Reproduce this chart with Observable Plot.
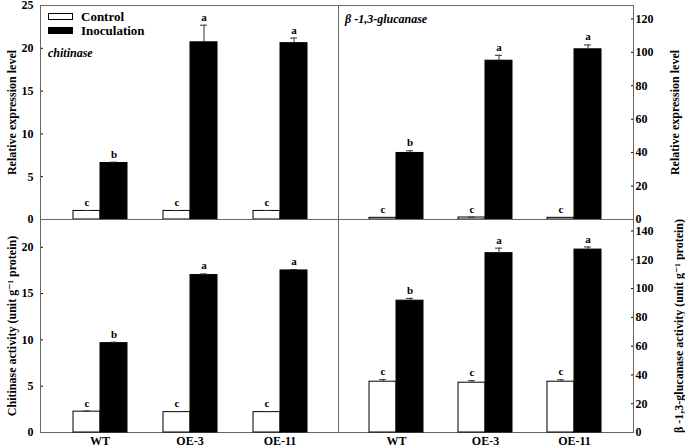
<!DOCTYPE html>
<html><head><meta charset="utf-8">
<script src="https://cdn.jsdelivr.net/npm/d3@7"></script>
<script src="https://cdn.jsdelivr.net/npm/@observablehq/plot@0.6"></script>
<style>
body{margin:0;background:#fff}
#chart{position:relative;width:685px;height:447px;font-family:"Liberation Serif","Times New Roman",Times,"DejaVu Serif",serif;font-weight:bold;color:#000}
#chart svg{position:absolute;left:0;top:0}
#chart svg text{font-weight:bold;font-family:"Liberation Serif","Times New Roman",Times,"DejaVu Serif",serif}
.ann{position:absolute;white-space:nowrap;line-height:1;font-size:12px}
.sw{position:absolute;box-sizing:border-box;border:1px solid #000;width:25px;height:7px}
</style></head>
<body><div id="chart"></div>
<script>
const groups = ["WT", "OE-3", "OE-11"];
const series = ["Control", "Inoculation"];
const ctrlLetters = ["c", "c", "c"];
const inocLetters = ["b", "a", "a"];

// chitinase relative expression
const chiExpCtrl = [1.0, 1.0, 1.0];
const chiExpCtrlErr = [0.05, 0.04, 0.05];
const chiExpInoc = [6.6, 20.7, 20.6];
const chiExpInocErr = [0.1, 2.0, 0.6];
// beta-1,3-glucanase relative expression
const gluExpCtrl = [1.0, 1.2, 1.0];
const gluExpCtrlErr = [0.2, 0.2, 0.2];
const gluExpInoc = [39.8, 95.0, 101.8];
const gluExpInocErr = [1.3, 3.2, 2.6];
// chitinase activity
const chiActCtrl = [2.25, 2.2, 2.2];
const chiActCtrlErr = [0.07, 0.06, 0.06];
const chiActInoc = [9.65, 17.0, 17.5];
const chiActInocErr = [0.1, 0.12, 0.1];
// beta-1,3-glucanase activity
const gluActCtrl = [35.3, 34.6, 35.3];
const gluActCtrlErr = [1.4, 1.4, 1.3];
const gluActInoc = [91.6, 124.6, 127.1];
const gluActInocErr = [1.6, 3.5, 1.8];

const W = 685, H = 447;
const colX = [[40, 338], [338, 633]];
const rowY = [[5, 219], [219, 432]];
const FONT = "'Liberation Serif','Times New Roman',Times,'DejaVu Serif',serif";

function rows(ctrl, ctrlErr, inoc, inocErr) {
  const out = [];
  groups.forEach((g, i) => {
    out.push({group: g, series: "Control", value: ctrl[i], err: ctrlErr[i], letter: ctrlLetters[i]});
    out.push({group: g, series: "Inoculation", value: inoc[i], err: inocErr[i], letter: inocLetters[i]});
  });
  return out;
}

const style = {background: "transparent", fontFamily: FONT, fontWeight: "bold", fontSize: "12px", color: "#000", overflow: "visible"};

function panel({data, domain, ticks, col, row, label, labelOffset}) {
  const [x0, x1] = colX[col];
  const [y0, y1] = rowY[row];
  const margins = {marginLeft: x0, marginRight: W - x1, marginTop: y0, marginBottom: H - y1};
  const side = col === 0 ? "left" : "right";
  const axisPlot = Plot.plot({
    width: W, height: H, ...margins, style,
    y: {domain, ticks, axis: side, tickSize: -3, tickPadding: col === 0 ? 10 : 5,
        label, labelAnchor: "center", labelOffset, labelArrow: "none"},
    marks: [Plot.frame({stroke: "#666"})]
  });
  const barPlot = Plot.plot({
    width: W, height: H, ...margins, style,
    facet: {data, x: "group", label: null},
    fx: {domain: groups, paddingInner: 0.39, paddingOuter: 0.34, axis: row === 1 ? "bottom" : null,
         label: null, tickSize: 0, tickPadding: 4},
    x: {domain: series, padding: 0, axis: null},
    y: {domain, axis: null},
    color: {domain: series, range: ["white", "black"]},
    marks: [
      Plot.barY(data, {x: "series", y: "value", fill: "series", stroke: "#000", strokeWidth: 1}),
      Plot.ruleX(data, {x: "series", y1: "value", y2: d => d.value + d.err, stroke: "#333"}),
      Plot.tickY(data, {x: "series", y: d => d.value + d.err, stroke: "#333", insetLeft: 10, insetRight: 10}),
      Plot.text(data, {x: "series", y: d => d.value + d.err, text: "letter", dy: -8, fontSize: 11, fontWeight: "bold"})
    ]
  });
  return [axisPlot, barPlot];
}

const chart = document.getElementById("chart");
const panels = [
  panel({data: rows(chiExpCtrl, chiExpCtrlErr, chiExpInoc, chiExpInocErr), domain: [0, 25], ticks: [0, 5, 10, 15, 20, 25], col: 0, row: 0, label: "Relative expression level", labelOffset: 33}),
  panel({data: rows(gluExpCtrl, gluExpCtrlErr, gluExpInoc, gluExpInocErr), domain: [0, 128], ticks: [0, 20, 40, 60, 80, 100, 120], col: 1, row: 0, label: "Relative expression level", labelOffset: 45}),
  panel({data: rows(chiActCtrl, chiActCtrlErr, chiActInoc, chiActInocErr), domain: [0, 23], ticks: [0, 5, 10, 15, 20], col: 0, row: 1, label: "Chitinase activity (unit g\u207B\u00B9 protein)", labelOffset: 33}),
  panel({data: rows(gluActCtrl, gluActCtrlErr, gluActInoc, gluActInocErr), domain: [0, 148], ticks: [0, 20, 40, 60, 80, 100, 120, 140], col: 1, row: 1, label: "\u03B2 -1,3-glucanase activity (unit g\u207B\u00B9 protein)", labelOffset: 49})
];
panels.flat().forEach(svg => chart.appendChild(svg));

function ann(text, left, top, extra) {
  const d = document.createElement("div");
  d.className = "ann";
  d.textContent = text;
  d.style.left = left + "px";
  d.style.top = top + "px";
  Object.assign(d.style, extra || {});
  chart.appendChild(d);
}
function sw(top, fill) {
  const d = document.createElement("div");
  d.className = "sw";
  d.style.left = "48px";
  d.style.top = top + "px";
  d.style.background = fill;
  chart.appendChild(d);
}
sw(13, "white");
sw(27, "black");
ann(series[0], 81, 10, {fontSize: "13px"});
ann(series[1], 81, 24, {fontSize: "13px"});
ann("chitinase", 48, 47, {fontStyle: "italic"});
ann("\u03B2 -1,3-glucanase", 345, 13, {fontStyle: "italic"});
</script></body></html>
